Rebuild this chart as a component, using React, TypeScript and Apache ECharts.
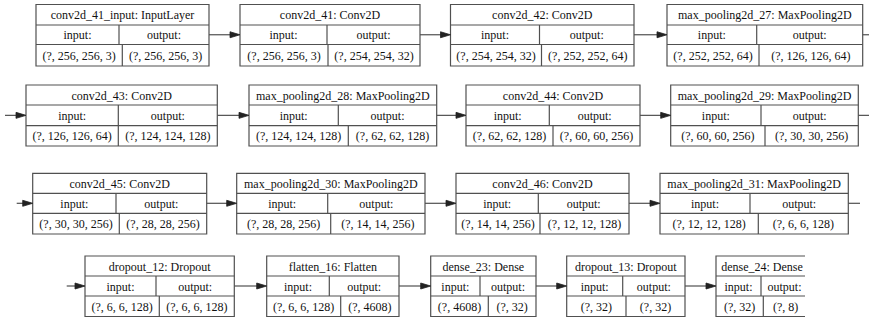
import React, { useEffect, useRef } from "react";
import * as echarts from "echarts";

// ---- data: layers of the model ----
const layerNames = [
  "conv2d_41_input", "conv2d_41", "conv2d_42", "max_pooling2d_27",
  "conv2d_43", "max_pooling2d_28", "conv2d_44", "max_pooling2d_29",
  "conv2d_45", "max_pooling2d_30", "conv2d_46", "max_pooling2d_31",
  "dropout_12", "flatten_16", "dense_23", "dropout_13", "dense_24",
];
const layerTypes = [
  "InputLayer", "Conv2D", "Conv2D", "MaxPooling2D",
  "Conv2D", "MaxPooling2D", "Conv2D", "MaxPooling2D",
  "Conv2D", "MaxPooling2D", "Conv2D", "MaxPooling2D",
  "Dropout", "Flatten", "Dense", "Dropout", "Dense",
];
const inputShapes = [
  "(?, 256, 256, 3)", "(?, 256, 256, 3)", "(?, 254, 254, 32)", "(?, 252, 252, 64)",
  "(?, 126, 126, 64)", "(?, 124, 124, 128)", "(?, 62, 62, 128)", "(?, 60, 60, 256)",
  "(?, 30, 30, 256)", "(?, 28, 28, 256)", "(?, 14, 14, 256)", "(?, 12, 12, 128)",
  "(?, 6, 6, 128)", "(?, 6, 6, 128)", "(?, 4608)", "(?, 32)", "(?, 32)",
];
const outputShapes = [
  "(?, 256, 256, 3)", "(?, 254, 254, 32)", "(?, 252, 252, 64)", "(?, 126, 126, 64)",
  "(?, 124, 124, 128)", "(?, 62, 62, 128)", "(?, 60, 60, 256)", "(?, 30, 30, 256)",
  "(?, 28, 28, 256)", "(?, 14, 14, 256)", "(?, 12, 12, 128)", "(?, 6, 6, 128)",
  "(?, 6, 6, 128)", "(?, 4608)", "(?, 32)", "(?, 32)", "(?, 8)",
];

// ---- layout (positions only) ----
// rows: [top, titleDivider, ioDivider, bottom, entryX, exitX]
const rowLayout = [
  [4.5, 25, 44.5, 66, null, 869],
  [85, 105, 125.7, 146, 5, 869],
  [173.3, 193.3, 213.3, 234, 16.7, 860],
  [256, 276, 296, 316.5, 66.7, null],
];
// boxes: [row, left, right, ioSplit, shapeSplit]
const boxLayout = [
  [0, 36, 209, 119, 122.3],
  [0, 240, 420, 327, 328],
  [0, 450.5, 634, 539.5, 541.5],
  [0, 667, 862.7, 756.7, 759],
  [1, 26, 217.3, 118.3, 118.3],
  [1, 249, 436.7, 338.3, 348.3],
  [1, 466, 640, 549.3, 553],
  [1, 670.7, 858.3, 761, 765],
  [2, 32.7, 206.7, 116, 119.3],
  [2, 236.7, 425, 327.7, 330.7],
  [2, 456, 629, 538.3, 540],
  [2, 660, 848.3, 750, 758.3],
  [3, 85, 234.3, 156, 159.3],
  [3, 266.7, 399, 329.3, 340.7],
  [3, 430.7, 536, 480, 488.3],
  [3, 566.7, 685, 622.7, 626],
  [3, 716, 808, 761, 763.3],
];

const STROKE = "#505050";
const TEXT = "#111";
const FONT = "Liberation Serif";
const FS = 12;

function buildGraphics() {
  const els: any[] = [];
  const line = (x1: number, y1: number, x2: number, y2: number) => ({
    type: "line",
    shape: { x1, y1, x2, y2 },
    style: { stroke: STROKE, lineWidth: 1.2 },
  });
  const text = (t: string, x: number, y: number) => ({
    type: "text",
    x,
    y,
    style: {
      text: t,
      fontSize: FS,
      fontFamily: FONT,
      fill: TEXT,
      align: "center",
      verticalAlign: "middle",
    },
  });
  const arrow = (x1: number, x2: number, y: number) => {
    els.push(line(x1, y, x2 - 8, y));
    els.push({
      type: "polygon",
      shape: { points: [[x2 - 10, y - 3], [x2, y], [x2 - 10, y + 3]] },
      style: { fill: "#222", stroke: "#222", lineWidth: 0.8 },
    });
  };

  boxLayout.forEach((b, i) => {
    const [r, l, rt, s1, s2] = b as number[];
    const [top, d1, d2, bot] = rowLayout[r] as number[];
    els.push({
      type: "rect",
      shape: { x: l, y: top, width: rt - l, height: bot - top },
      style: { fill: "#fff", stroke: STROKE, lineWidth: 1.2 },
    });
    els.push(line(l, d1, rt, d1));
    els.push(line(l, d2, rt, d2));
    els.push(line(s1, d1, s1, d2));
    els.push(line(s2, d2, s2, bot));
    els.push(text(`${layerNames[i]}: ${layerTypes[i]}`, (l + rt) / 2, (top + d1) / 2 + 0.5));
    els.push(text("input:", (l + s1) / 2, (d1 + d2) / 2 + 0.5));
    els.push(text("output:", (s1 + rt) / 2, (d1 + d2) / 2 + 0.5));
    els.push(text(inputShapes[i], (l + s2) / 2, (d2 + bot) / 2 + 0.5));
    els.push(text(outputShapes[i], (s2 + rt) / 2, (d2 + bot) / 2 + 0.5));
  });

  // arrows between consecutive boxes in a row, and row entry / exit lines
  for (let i = 0; i < boxLayout.length; i++) {
    const [r, l] = boxLayout[i] as number[];
    const [, d1, d2, , entryX] = rowLayout[r] as any[];
    const y = (d1 + d2) / 2;
    const prev = boxLayout[i - 1];
    if (prev && prev[0] === r) {
      arrow(prev[2] as number, l, y);
    } else if (entryX != null) {
      arrow(entryX, l, y);
    }
    const next = boxLayout[i + 1];
    const exitX = rowLayout[r][5];
    if ((!next || next[0] !== r) && exitX != null) {
      els.push(line(boxLayout[i][2] as number, y, exitX as number, y));
    }
  }

  // image edge crop on the last box
  els.push({
    type: "rect",
    shape: { x: 805, y: 250, width: 70, height: 70 },
    style: { fill: "#fff" },
  });
  return els;
}

export default function App() {
  const ref = useRef<HTMLDivElement>(null);
  useEffect(() => {
    document.body.style.margin = "0";
    const chart = echarts.init(ref.current!, null, { renderer: "svg" });
    chart.setOption({
      animation: false,
      backgroundColor: "#fff",
      graphic: { elements: buildGraphics() },
    });
    return () => chart.dispose();
  }, []);
  return <div ref={ref} style={{ width: 869, height: 317 }} />;
}
